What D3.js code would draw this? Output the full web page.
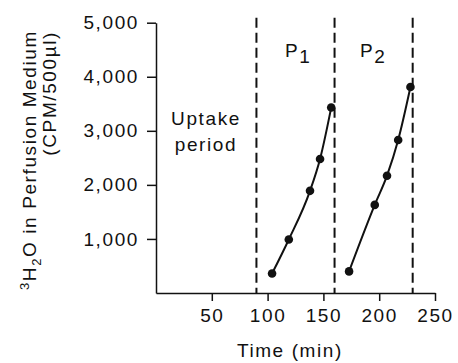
<!DOCTYPE html>
<html>
<head>
<meta charset="utf-8">
<script src="https://cdn.jsdelivr.net/npm/d3@7"></script>
<style>
  body { margin: 0; background: #fff; }
  svg text { font-family: "Liberation Sans", Arial, Helvetica, sans-serif; fill: #111; letter-spacing: 1.6px; }
  .axis path, .axis line { stroke: #111; stroke-width: 1.5; }
</style>
</head>
<body>
<div class="graph"></div>
<script>
// values
let p1Time = [104, 119, 138, 147, 157],
    p1Cpm = [360, 990, 1890, 2480, 3430]
let p2Time = [173, 196, 207, 217, 228],
    p2Cpm = [400, 1630, 2170, 2830, 3810]
let dividers = [90, 160, 230],
    dividerTop = 5090
let xTicks = [50, 100, 150, 200, 250],
    yTicks = [1000, 2000, 3000, 4000, 5000]

let width = 458,
    height = 363,
    fontSize = 19

let x = d3.scaleLinear().domain([0, 250]).range([156, 435])
let y = d3.scaleLinear().domain([0, 5000]).range([293, 22.7])

let svg = d3.select('.graph').append('svg')
    .attr('width', width)
    .attr('height', height)

// axes
svg.append('g')
    .attr('class', 'axis')
    .attr('transform', 'translate(0,' + y(0) + ')')
    .call(d3.axisBottom(x).tickValues(xTicks).tickSize(8).tickSizeOuter(0).tickPadding(8))
    .call(g => g.selectAll('text').attr('font-size', fontSize).attr('font-family', null))

svg.append('g')
    .attr('class', 'axis')
    .attr('transform', 'translate(' + x(0) + ',0)')
    .call(d3.axisLeft(y).tickValues(yTicks).tickFormat(d3.format(',')).tickSize(9).tickSizeOuter(0).tickPadding(8))
    .call(g => g.selectAll('text').attr('font-size', fontSize).attr('font-family', null))

// period dividers
svg.append('g').selectAll('line')
    .data(dividers)
    .join('line')
    .attr('x1', d => x(d)).attr('x2', d => x(d))
    .attr('y1', y(dividerTop)).attr('y2', y(0))
    .attr('stroke', '#111')
    .attr('stroke-width', 2)
    .attr('stroke-dasharray', '10,5')

let line = d3.line()
    .curve(d3.curveMonotoneX)
    .x(d => x(d[0]))
    .y(d => y(d[1]))

let series = [
    d3.zip(p1Time, p1Cpm),
    d3.zip(p2Time, p2Cpm)
]

for (let s of series) {
    svg.append('path')
        .datum(s)
        .attr('d', line)
        .attr('fill', 'none')
        .attr('stroke', '#111')
        .attr('stroke-width', 2)
    svg.append('g').selectAll('circle')
        .data(s)
        .join('circle')
        .attr('cx', d => x(d[0]))
        .attr('cy', d => y(d[1]))
        .attr('r', 4.3)
        .attr('fill', '#111')
}

// labels
let uptake = svg.append('text')
    .attr('font-size', fontSize)
    .attr('text-anchor', 'middle')
uptake.append('tspan').attr('x', 206).attr('y', 125).text('Uptake')
uptake.append('tspan').attr('x', 206).attr('y', 151).text('period')

let periods = [['P', '1', 285], ['P', '2', 360]]
for (let p of periods) {
    let t = svg.append('text').attr('x', p[2]).attr('y', 57).attr('font-size', fontSize)
    t.append('tspan').text(p[0])
    t.append('tspan').attr('dy', 6).text(p[1])
}

svg.append('text')
    .attr('x', x(120))
    .attr('y', 357)
    .attr('font-size', fontSize)
    .attr('text-anchor', 'middle')
    .text('Time (min)')

let ylab = svg.append('text')
    .attr('transform', 'translate(36,290) rotate(-90)')
    .attr('font-size', fontSize)
    .attr('text-anchor', 'start')
ylab.append('tspan').attr('font-size', 13).attr('dy', -7).text('3')
ylab.append('tspan').attr('dy', 7).text('H')
ylab.append('tspan').attr('font-size', 13).attr('dy', 5).text('2')
ylab.append('tspan').attr('dy', -5).text('O in Perfusion Medium')

svg.append('text')
    .attr('transform', 'translate(56,31) rotate(-90)')
    .attr('font-size', fontSize)
    .attr('text-anchor', 'end')
    .text('(CPM/500\u00b5l)')
</script>
</body>
</html>
